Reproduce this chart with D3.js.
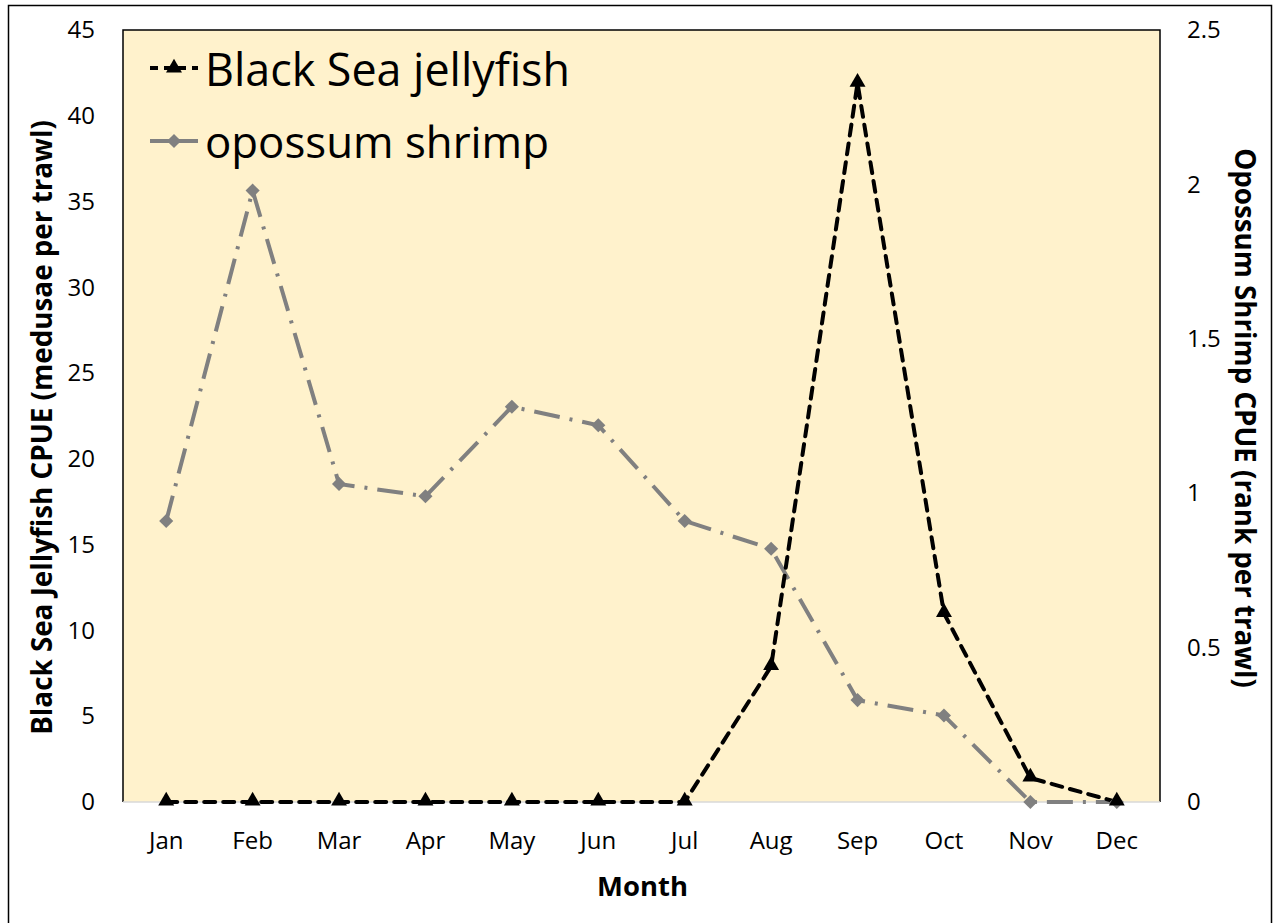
<!DOCTYPE html>
<html>
<head>
<meta charset="utf-8">
<script src="https://cdn.jsdelivr.net/npm/d3@7"></script>
<style>
  html, body { margin: 0; padding: 0; background: #fff; }
  svg { display: block; }
  text { font-family: "Open Sans", "Noto Sans", sans-serif; fill: #000; }
</style>
</head>
<body>
<svg id="chart" width="1275" height="923"></svg>
<script>
// Monthly catch per unit effort
const months = ["Jan", "Feb", "Mar", "Apr", "May", "Jun", "Jul", "Aug", "Sep", "Oct", "Nov", "Dec"];
const jellyfishCPUE = [0, 0, 0, 0, 0, 0, 0, 7.9, 41.9, 11.0, 1.4, 0];
const shrimpCPUE = [0.91, 1.98, 1.03, 0.99, 1.28, 1.22, 0.91, 0.82, 0.33, 0.28, 0, 0];
const leftTicks = [0, 5, 10, 15, 20, 25, 30, 35, 40, 45];
const rightTicks = [0, 0.5, 1, 1.5, 2, 2.5];
const seriesNames = ["Black Sea jellyfish", "opossum shrimp"];

const svg = d3.select("#chart");
const m = { left: 123, right: 1160, top: 30, bottom: 802 };

// Outer frame (runs past the bottom edge)
svg.append("rect")
  .attr("x", 8.5).attr("y", 5.5)
  .attr("width", 1263).attr("height", 940)
  .attr("fill", "#fff").attr("stroke", "#000").attr("stroke-width", 1.5);

const x = d3.scaleBand().domain(months).range([m.left, m.right]).padding(0);
const yL = d3.scaleLinear().domain([0, 45]).range([m.bottom, m.top]);
const yR = d3.scaleLinear().domain([0, 2.5]).range([m.bottom, m.top]);
const cx = d => x(d) + x.bandwidth() / 2;

// Plot area
svg.append("rect")
  .attr("x", m.left).attr("y", m.top)
  .attr("width", m.right - m.left).attr("height", m.bottom - m.top)
  .attr("fill", "#FFF2CC");
svg.append("path")
  .attr("d", `M${m.left},${m.bottom}V${m.top}H${m.right}V${m.bottom}`)
  .attr("fill", "none").attr("stroke", "#000").attr("stroke-width", 1.5);
svg.append("line")
  .attr("x1", m.left).attr("x2", m.right)
  .attr("y1", m.bottom).attr("y2", m.bottom)
  .attr("stroke", "#d9d9d9").attr("stroke-width", 1.5);

// Axes (labels only, no tick marks)
const axisL = svg.append("g").attr("transform", `translate(${m.left},0)`)
  .call(d3.axisLeft(yL).tickValues(leftTicks).tickSize(0).tickPadding(28).tickFormat(d3.format("d")));
const axisR = svg.append("g").attr("transform", `translate(${m.right},0)`)
  .call(d3.axisRight(yR).tickValues(rightTicks).tickSize(0).tickPadding(27).tickFormat(d => String(d)));
const axisB = svg.append("g").attr("transform", `translate(0,${m.bottom})`)
  .call(d3.axisBottom(x).tickSize(0).tickPadding(30));
[axisL, axisR, axisB].forEach(g => {
  g.select(".domain").remove();
  g.selectAll("text").attr("font-size", 24).attr("font-family", "'Open Sans', sans-serif").attr("fill", "#000");
});

// Scale a text's font size so it spans a given length
function fitText(sel, target) {
  const len = sel.node().getComputedTextLength();
  const fs = parseFloat(sel.attr("font-size"));
  sel.attr("font-size", fs * target / len);
  return sel;
}

// Axis titles
fitText(svg.append("text")
  .attr("transform", `translate(41,${(120 + 735) / 2}) rotate(-90)`)
  .attr("text-anchor", "middle").attr("dominant-baseline", "central")
  .attr("font-weight", "bold").attr("font-size", 24)
  .text("Black Sea Jellyfish CPUE (medusae per trawl)"), 615);
fitText(svg.append("text")
  .attr("transform", `translate(1246,${(148 + 688) / 2}) rotate(90)`)
  .attr("text-anchor", "middle").attr("dominant-baseline", "central")
  .attr("font-weight", "bold").attr("font-size", 24)
  .text("Opossum Shrimp CPUE (rank per trawl)"), 540);
fitText(svg.append("text")
  .attr("x", (m.left + m.right) / 2 + 1).attr("y", 885)
  .attr("text-anchor", "middle").attr("dominant-baseline", "central")
  .attr("font-weight", "bold").attr("font-size", 24)
  .text("Month"), 91);

// Series lines
const shrimpLine = d3.line().x((d, i) => cx(months[i])).y(d => yR(d));
const jellyLine = d3.line().x((d, i) => cx(months[i])).y(d => yL(d));

const shrimpStyle = { stroke: "#808080", width: 4, dash: "26,10,3,10", cap: "butt" };
const jellyStyle = { stroke: "#000", width: 4, dash: "11,8", cap: "round" };

svg.append("path").datum(shrimpCPUE)
  .attr("d", shrimpLine)
  .attr("fill", "none").attr("stroke", shrimpStyle.stroke)
  .attr("stroke-width", shrimpStyle.width).attr("stroke-dasharray", shrimpStyle.dash);

svg.append("path").datum(jellyfishCPUE)
  .attr("d", jellyLine)
  .attr("fill", "none").attr("stroke", jellyStyle.stroke)
  .attr("stroke-width", jellyStyle.width).attr("stroke-dasharray", jellyStyle.dash)
  .attr("stroke-linecap", jellyStyle.cap).attr("stroke-linejoin", "round");

const tri = d3.symbol().type(d3.symbolTriangle).size(110);
const dia = d3.symbol().type(d3.symbolSquare).size(100);

svg.append("g").selectAll("path").data(shrimpCPUE).join("path")
  .attr("d", dia)
  .attr("transform", (d, i) => `translate(${cx(months[i])},${yR(d)}) rotate(45)`)
  .attr("fill", "#808080");

svg.append("g").selectAll("path").data(jellyfishCPUE).join("path")
  .attr("d", tri)
  .attr("transform", (d, i) => `translate(${cx(months[i])},${yL(d) - 1})`)
  .attr("fill", "#000");

// Legend
const legend = svg.append("g");
const rows = [
  { name: seriesNames[0], style: jellyStyle, y: 68, marker: tri, rot: 0, fill: "#000", sample: "8,6" },
  { name: seriesNames[1], style: shrimpStyle, y: 141, marker: dia, rot: 45, fill: "#808080", sample: "48" }
];
const legendWidths = [365, 344];
rows.forEach((r, k) => {
  legend.append("line")
    .attr("x1", 150).attr("x2", 198).attr("y1", r.y).attr("y2", r.y)
    .attr("stroke", r.style.stroke).attr("stroke-width", r.style.width)
    .attr("stroke-dasharray", r.sample).attr("stroke-linecap", "butt");
  legend.append("path").attr("d", r.marker)
    .attr("transform", `translate(174,${r.y}) rotate(${r.rot})`)
    .attr("fill", r.fill);
  fitText(legend.append("text")
    .attr("x", 205).attr("y", r.y).attr("dominant-baseline", "central")
    .attr("font-size", 40).text(r.name), legendWidths[k]);
});
</script>
</body>
</html>
